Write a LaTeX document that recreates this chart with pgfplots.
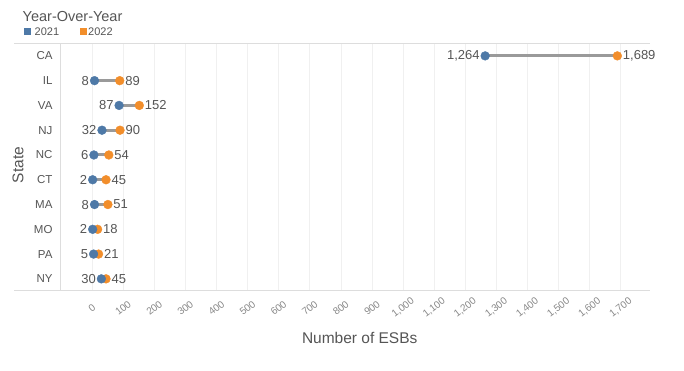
\documentclass[border=0pt]{standalone}
\usepackage{fontspec}
\setmainfont{Liberation Sans}
\usepackage{pgfplots}
\pgfplotsset{compat=1.18}
\definecolor{cblue}{HTML}{4E79A7}
\definecolor{corange}{HTML}{F28E2B}
\definecolor{lgray}{HTML}{9A9A9A}
\definecolor{tgray}{HTML}{555555}
\definecolor{ticgray}{HTML}{888888}
\definecolor{gridc}{HTML}{F0F0F0}
\definecolor{framec}{HTML}{DDDDDD}
\begin{document}
\begin{tikzpicture}
\useasboundingbox (0,0) rectangle (684bp,371bp);
\begin{axis}[
  at={(60bp,81bp)}, anchor=south west,
  scale only axis, width=590bp, height=247bp,
  xmin=-103, xmax=1794,
  ymin=-0.52, ymax=9.45, y dir=reverse,
  ytick={0,...,9},
  yticklabels={CA,IL,VA,NJ,NC,CT,MA,MO,PA,NY},
  xtick={0,100,...,1700},
  xmajorgrids, grid style={gridc, line width=0.7bp},
  axis line style={draw=none},
  major tick length=0pt,
  /pgf/number format/assume math mode=true,
  /pgf/number format/1000 sep={,},
  xticklabel style={font=\fontsize{10bp}{12bp}\selectfont, text=ticgray, anchor=center, yshift=-18bp, rotate=38},
  yticklabel style={font=\fontsize{11.5bp}{13bp}\selectfont, text=tgray, xshift=-4bp},
  xlabel={Number of ESBs}, ylabel={State},
  xlabel style={at={(axis description cs:0.508,-0.194)}, anchor=center, font=\fontsize{15.5bp}{18bp}\selectfont, text=tgray},
  ylabel style={at={(axis description cs:-0.0712,0.506)}, anchor=center, font=\fontsize{15.5bp}{18bp}\selectfont, text=tgray},
  clip=false,
  unbounded coords=jump,
]
\addplot[lgray, line width=3bp, no marks] coordinates {
 (1264,0) (1689,0) (nan,nan)
 (8,1) (89,1) (nan,nan)
 (87,2) (152,2) (nan,nan)
 (32,3) (90,3) (nan,nan)
 (6,4) (54,4) (nan,nan)
 (2,5) (45,5) (nan,nan)
 (8,6) (51,6) (nan,nan)
 (2,7) (18,7) (nan,nan)
 (5,8) (21,8) (nan,nan)
 (30,9) (45,9)
};
\addplot[only marks, mark=*, mark size=4.4bp, color=corange, mark options={solid, draw=corange, fill=corange},
  point meta=x, nodes near coords,
  nodes near coords style={anchor=west, xshift=4.4bp, inner sep=1bp, font=\fontsize{13bp}{15bp}\selectfont, text=tgray}]
 coordinates {(1689,0) (89,1) (152,2) (90,3) (54,4) (45,5) (51,6) (18,7) (21,8) (45,9)};
\addplot[only marks, mark=*, mark size=4.4bp, color=cblue, mark options={solid, draw=cblue, fill=cblue},
  point meta=x, nodes near coords,
  nodes near coords style={anchor=east, xshift=-4.4bp, inner sep=1bp, font=\fontsize{13bp}{15bp}\selectfont, text=tgray}]
 coordinates {(1264,0) (8,1) (87,2) (32,3) (6,4) (2,5) (8,6) (2,7) (5,8) (30,9)};
\end{axis}
\draw[framec, line width=0.8bp] (14bp,328bp) -- (650bp,328bp);
\draw[framec, line width=0.8bp] (14bp,81bp) -- (650bp,81bp);
\draw[framec, line width=0.8bp] (60bp,81bp) -- (60bp,328bp);
\node[anchor=west, inner sep=0, font=\fontsize{14.5bp}{16bp}\selectfont, text=tgray] at (22.5bp,354bp) {Year-Over-Year};
\fill[cblue] (24bp,336bp) rectangle (31bp,343bp);
\node[anchor=west, inner sep=0, font=\fontsize{11bp}{13bp}\selectfont, text=tgray] at (34.5bp,339.5bp) {2021};
\fill[corange] (80bp,336bp) rectangle (87bp,343bp);
\node[anchor=west, inner sep=0, font=\fontsize{11bp}{13bp}\selectfont, text=tgray] at (88bp,339.5bp) {2022};
\end{tikzpicture}
\end{document}
